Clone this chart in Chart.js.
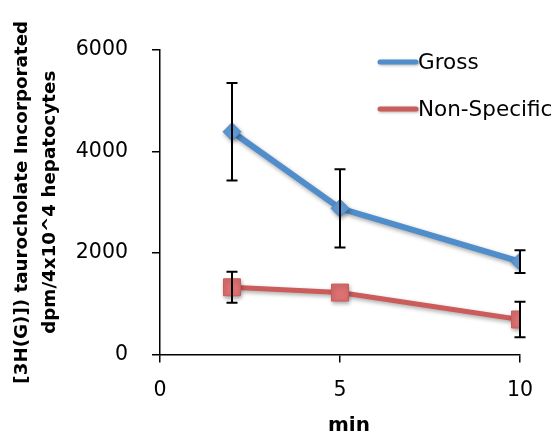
<!DOCTYPE html>
<html>
<head>
<meta charset="utf-8">
<script src="https://cdn.jsdelivr.net/npm/chart.js@4.4.0/dist/chart.umd.min.js"></script>
<style>
html,body{margin:0;padding:0;background:#fff;}
#wrap{width:555px;height:432px;position:relative;}
</style>
</head>
<body>
<div id="wrap"><canvas id="c" width="555" height="432"></canvas></div>
<script>
const xValues = [2, 5, 10];
const seriesNames = ['Gross', 'Non-Specific'];
const grossValues = [4390, 2880, 1830];
const grossErrors = [960, 770, 225];
const nonSpecificValues = [1325, 1220, 690];
const nonSpecificErrors = [305, 0, 350];
const xTickStep = 5;
const yTickStep = 2000;
const yTitleLines = ['[3H(G)]) taurocholate Incorporated', 'dpm/4x10^4 hepatocytes'];
const xTitle = 'min';

const errorSets = [grossErrors, nonSpecificErrors];

const FONT = "'DejaVu Sans', Verdana, sans-serif";

const errorBarPlugin = {
  id: 'errorBars',
  beforeDatasetsDraw(chart) {
    const ctx = chart.ctx;
    ctx.save();
    ctx.shadowColor = 'rgba(0,0,0,0.35)';
    ctx.shadowBlur = 4;
    ctx.shadowOffsetX = 1;
    ctx.shadowOffsetY = 2;
  },
  afterDatasetsDraw(chart) {
    const ctx = chart.ctx;
    ctx.restore();
    const y = chart.scales.y;
    const x = chart.scales.x;
    ctx.save();
    ctx.strokeStyle = '#000';
    ctx.lineWidth = 2;
    chart.data.datasets.forEach((ds, i) => {
      const errs = errorSets[i];
      ds.data.forEach((p, j) => {
        if (!errs[j]) return;
        const px = x.getPixelForValue(p.x);
        const yt = y.getPixelForValue(p.y + errs[j]);
        const yb = y.getPixelForValue(p.y - errs[j]);
        ctx.beginPath();
        ctx.moveTo(px, yt); ctx.lineTo(px, yb);
        ctx.moveTo(px - 5.5, yt); ctx.lineTo(px + 5.5, yt);
        ctx.moveTo(px - 5.5, yb); ctx.lineTo(px + 5.5, yb);
        ctx.stroke();
      });
    });
    ctx.restore();
  },
  afterDraw(chart) {
    const ctx = chart.ctx;
    const entries = [
      {ds: chart.data.datasets[0], y: 62},
      {ds: chart.data.datasets[1], y: 109}
    ];
    ctx.save();
    entries.forEach(e => {
      ctx.save();
      ctx.shadowColor = 'rgba(0,0,0,0.3)';
      ctx.shadowBlur = 3;
      ctx.shadowOffsetX = 1;
      ctx.shadowOffsetY = 1;
      ctx.strokeStyle = e.ds.borderColor;
      ctx.lineWidth = 5;
      ctx.lineCap = 'round';
      ctx.beginPath();
      ctx.moveTo(380, e.y);
      ctx.lineTo(416, e.y);
      ctx.stroke();
      ctx.fillStyle = e.ds.pointBackgroundColor;
      ctx.strokeStyle = e.ds.pointBorderColor;
      ctx.lineWidth = 1;
      Chart.helpers.drawPoint(ctx, {pointStyle: e.ds.pointStyle, rotation: 0, borderWidth: 1}, 398, e.y, e.ds.pointStyle === 'rect' ? 10 : 6.5);
      ctx.restore();
      ctx.fillStyle = '#000';
      ctx.font = '21.5px ' + FONT;
      ctx.textAlign = 'left';
      ctx.textBaseline = 'middle';
      ctx.fillText(e.ds.label, 418, e.y + 1);
    });
    // x axis title
    const xs = chart.scales.x;
    ctx.fillStyle = '#000';
    ctx.font = 'bold 20px ' + FONT;
    ctx.textAlign = 'center';
    ctx.textBaseline = 'alphabetic';
    ctx.fillText(xTitle, (xs.left + xs.right) / 2 + 9, 431);
    ctx.restore();
  }
};

new Chart(document.getElementById('c'), {
  type: 'line',
  data: {
    datasets: [
      {
        label: seriesNames[0],
        data: xValues.map((x, i) => ({x: x, y: grossValues[i]})),
        borderColor: '#508DCB',
        backgroundColor: '#508DCB',
        borderWidth: 6,
        pointStyle: 'rectRot',
        pointRadius: 9,
        pointBackgroundColor: '#5F9BD6',
        pointBorderColor: '#508DCB',
        pointBorderWidth: 1,
        tension: 0,
        fill: false
      },
      {
        label: seriesNames[1],
        data: xValues.map((x, i) => ({x: x, y: nonSpecificValues[i]})),
        borderColor: '#CC5C5C',
        backgroundColor: '#CC5C5C',
        borderWidth: 5,
        pointStyle: 'rect',
        pointRadius: 12,
        pointBackgroundColor: '#DD7070',
        pointBorderColor: '#CC5C5C',
        pointBorderWidth: 1,
        tension: 0,
        fill: false
      }
    ]
  },
  options: {
    responsive: false,
    animation: false,
    events: [],
    layout: {padding: {left: 0, right: 35, top: 50, bottom: 0}},
    plugins: {
      legend: {display: false},
      tooltip: {enabled: false}
    },
    scales: {
      x: {
        type: 'linear',
        min: 0,
        max: 10,
        afterFit(scale) { scale.height = 77.5; },
        ticks: {stepSize: xTickStep, color: '#000', font: {family: FONT, size: 20.5}, padding: 16, maxRotation: 0},
        grid: {display: true, drawOnChartArea: false, drawTicks: true, tickLength: 8, color: '#000', lineWidth: 1.5},
        border: {display: true, color: '#000', width: 1.5},
        title: {display: false}
      },
      y: {
        min: 0,
        max: 6000,
        afterFit(scale) { scale.width = 160; },
        ticks: {stepSize: yTickStep, color: '#000', font: {family: FONT, size: 20.5}, padding: 24,
          callback: (v) => String(v)},
        grid: {display: true, drawOnChartArea: false, drawTicks: true, tickLength: 8, color: '#000', lineWidth: 1.5},
        border: {display: true, color: '#000', width: 1.5},
        title: {display: true, text: yTitleLines, color: '#000', font: {family: FONT, size: 18.3, weight: 'bold', lineHeight: 1.5}, padding: {top: 9, bottom: 0}}
      }
    }
  },
  plugins: [errorBarPlugin]
});
</script>
</body>
</html>
